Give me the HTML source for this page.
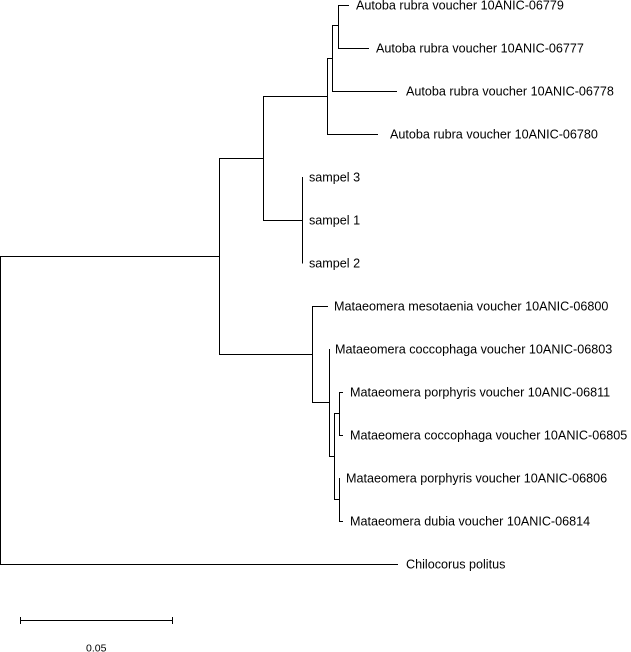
<!DOCTYPE html>
<html>
<head>
<meta charset="utf-8">
<style>
html,body{margin:0;padding:0;background:#fff;}
svg{display:block;}
text{font-family:"Liberation Sans",Arial,sans-serif;font-size:12.6px;fill:#000;}
</style>
</head>
<body>
<svg width="631" height="652" viewBox="0 0 631 652" xmlns="http://www.w3.org/2000/svg">
<g stroke="#000" stroke-width="1" fill="none" shape-rendering="crispEdges">
<!-- root -->
<path d="M0.5 256V564.5"/>
<path d="M0 256.5H219.5"/>
<path d="M0 564.5H398"/>
<!-- ingroup node -->
<path d="M219.5 158V354.5"/>
<path d="M219 158.5H263.5"/>
<path d="M219 354.5H312.5"/>
<!-- Autoba + sampel node -->
<path d="M263.5 96V220.5"/>
<path d="M263 96.5H327.5"/>
<path d="M263 220.5H302.5"/>
<!-- Autoba clade -->
<path d="M327.5 58V134.5"/>
<path d="M327 58.5H332.5"/>
<path d="M327 134.5H378"/>
<path d="M332.5 25V91.5"/>
<path d="M332 25.5H338.5"/>
<path d="M332 91.5H397"/>
<path d="M338.5 5V48.5"/>
<path d="M338 5.5H349"/>
<path d="M338 48.5H369"/>
<!-- sampel -->
<path d="M302.5 177V263.5"/>
<!-- Mataeomera -->
<path d="M312.5 306V402.5"/>
<path d="M312 306.5H328"/>
<path d="M312 402.5H329.5"/>
<path d="M329.5 349V456.5"/>
<path d="M329 456.5H334.5"/>
<path d="M334.5 413V499.5"/>
<path d="M334 413.5H339.5"/>
<path d="M339.5 392V435.5"/>
<path d="M339 392.5H343"/>
<path d="M339 435.5H343"/>
<path d="M334 499.5H339.5"/>
<path d="M339.5 478V521.5"/>
<path d="M339 521.5H343"/>
<!-- scale bar -->
<path d="M20 620.5H173"/>
<path d="M20.5 617V624"/>
<path d="M172.5 617V624"/>
</g>
<g>
<text x="356" y="9.5">Autoba rubra voucher 10ANIC-06779</text>
<text x="376" y="52.5">Autoba rubra voucher 10ANIC-06777</text>
<text x="406" y="95.5">Autoba rubra voucher 10ANIC-06778</text>
<text x="390" y="138.5">Autoba rubra voucher 10ANIC-06780</text>
<text x="309" y="181.5">sampel 3</text>
<text x="309" y="224.5">sampel 1</text>
<text x="309" y="267.5">sampel 2</text>
<text x="334" y="310.5">Mataeomera mesotaenia voucher 10ANIC-06800</text>
<text x="335" y="353.5">Mataeomera coccophaga voucher 10ANIC-06803</text>
<text x="350" y="396.5">Mataeomera porphyris voucher 10ANIC-06811</text>
<text x="350" y="439.5">Mataeomera coccophaga voucher 10ANIC-06805</text>
<text x="346" y="482.5">Mataeomera porphyris voucher 10ANIC-06806</text>
<text x="350" y="525.5">Mataeomera dubia voucher 10ANIC-06814</text>
<text x="406" y="568.5">Chilocorus politus</text>
<text x="86" y="651.5" style="font-size:10.5px">0.05</text>
</g>
</svg>
</body>
</html>
